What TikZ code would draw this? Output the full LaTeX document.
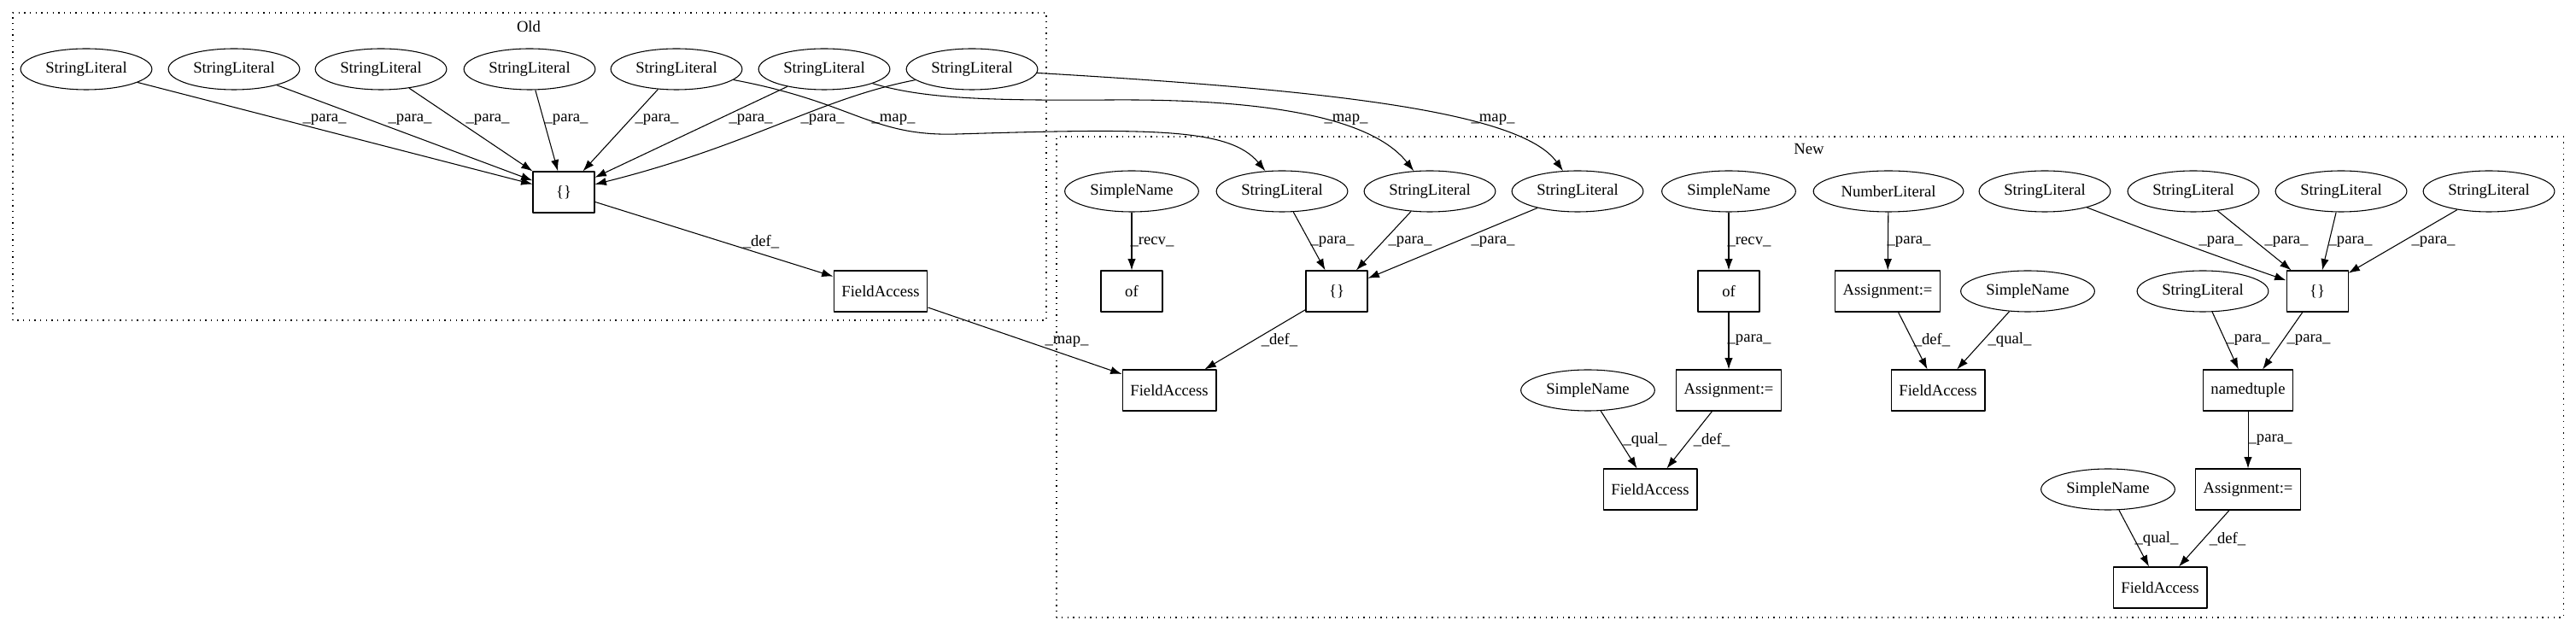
\documentclass[tikz,border=0pt]{standalone}
\usepackage{fontspec}
\setmainfont{Liberation Serif}
\usetikzlibrary{shapes.geometric,arrows.meta}

\begin{document}
\begin{tikzpicture}[>={Latex[length=10bp,width=7bp]},line join=bevel,line width=0.8bp,
  font=\fontsize{14bp}{16bp}\selectfont,
  litnode/.style={draw,ellipse,inner xsep=5bp,minimum height=36bp},
  astnode/.style={draw,rectangle,inner xsep=7bp,minimum width=54bp,minimum height=36bp},
  cluster/.style={draw,dash pattern=on 1bp off 4bp}]
\useasboundingbox (0bp,0bp) rectangle (2262bp,555bp);
%%
\draw [cluster] (11.25bp,273.75bp) rectangle (918.75bp,543.75bp);
\draw [cluster] (927.75bp,12.75bp) rectangle (2250.75bp,435bp);
\node (lbl_old) at (464.25bp,531.75bp) {Old};
\node (lbl_new) at (1588.5bp,424.5bp) {New};
%%
\node (node_0) at (75.75bp,494.25bp) [litnode] {StringLiteral};
  \node (node_1) at (205.5bp,494.25bp) [litnode] {StringLiteral};
  \node (node_2) at (334.5bp,494.25bp) [litnode] {StringLiteral};
  \node (node_3) at (465bp,494.25bp) [litnode] {StringLiteral};
  \node (node_4) at (594bp,494.25bp) [litnode] {StringLiteral};
  \node (node_5) at (723.75bp,494.25bp) [litnode] {StringLiteral};
  \node (node_6) at (853.5bp,494.25bp) [litnode] {StringLiteral};
  \node (node_7) at (495bp,386.25bp) [astnode] {\{\}};
  \node (node_8) at (773.25bp,299.25bp) [astnode] {FieldAccess};
  \node (node_9) at (993.75bp,387bp) [litnode] {SimpleName};
  \node (node_10) at (1125.75bp,387bp) [litnode] {StringLiteral};
  \node (node_11) at (1255.5bp,387bp) [litnode] {StringLiteral};
  \node (node_12) at (1385.25bp,387bp) [litnode] {StringLiteral};
  \node (node_13) at (1518bp,387bp) [litnode] {SimpleName};
  \node (node_14) at (1658.25bp,387bp) [litnode] {NumberLiteral};
  \node (node_15) at (1795.5bp,387bp) [litnode] {StringLiteral};
  \node (node_16) at (1926bp,387bp) [litnode] {StringLiteral};
  \node (node_17) at (2055.75bp,387bp) [litnode] {StringLiteral};
  \node (node_18) at (2185.5bp,387bp) [litnode] {StringLiteral};
  \node (node_19) at (993.75bp,299.25bp) [astnode] {of};
  \node (node_20) at (1173.75bp,299.25bp) [astnode] {\{\}};
  \node (node_21) at (1518bp,299.25bp) [astnode] {of};
  \node (node_22) at (1657.5bp,299.25bp) [astnode] {Assignment:=};
  \node (node_23) at (1780.5bp,299.25bp) [litnode] {SimpleName};
  \node (node_24) at (1934.25bp,299.25bp) [litnode] {StringLiteral};
  \node (node_25) at (2034.75bp,299.25bp) [astnode] {\{\}};
  \node (node_26) at (1026.75bp,212.25bp) [astnode] {FieldAccess};
  \node (node_27) at (1394.25bp,212.25bp) [litnode] {SimpleName};
  \node (node_28) at (1518bp,212.25bp) [astnode] {Assignment:=};
  \node (node_29) at (1701.75bp,212.25bp) [astnode] {FieldAccess};
  \node (node_30) at (1974bp,212.25bp) [astnode] {namedtuple};
  \node (node_31) at (1449bp,125.25bp) [astnode] {FieldAccess};
  \node (node_32) at (1851bp,125.25bp) [litnode] {SimpleName};
  \node (node_33) at (1974bp,125.25bp) [astnode] {Assignment:=};
  \node (node_34) at (1896.75bp,39bp) [astnode] {FieldAccess};
%%
  \draw [->] (node_0) -- (node_7);
  \draw [->] (node_1) -- (node_7);
  \draw [->] (node_2) -- (node_7);
  \draw [->] (node_3) -- (node_7);
  \draw [->] (node_4) -- (node_7);
  \draw [->] (node_5) -- (node_7);
  \draw [->] (node_6) .. controls (720bp,468.75bp) and (660bp,427.5bp) .. (node_7);
  \draw [->] (node_4) .. controls (750bp,465bp) and (765bp,435bp) .. (840bp,437.25bp) .. controls (1012.5bp,442.5bp) and (1080bp,442.5bp) .. (node_10);
  \draw [->] (node_5) .. controls (810bp,468.75bp) and (862.5bp,466.5bp) .. (975bp,467.25bp) .. controls (1087.5bp,468bp) and (1200bp,457.5bp) .. (node_11);
  \draw [->] (node_6) .. controls (1162.5bp,476.25bp) and (1335bp,457.5bp) .. (node_12);
  \draw [->] (node_7) -- (node_8);
  \draw [->] (node_8) -- (node_26);
  \draw [->] (node_9) -- (node_19);
  \draw [->] (node_10) -- (node_20);
  \draw [->] (node_11) -- (node_20);
  \draw [->] (node_12) -- (node_20);
  \draw [->] (node_13) -- (node_21);
  \draw [->] (node_14) -- (node_22);
  \draw [->] (node_15) .. controls (1905bp,345bp) and (1957.5bp,326.25bp) .. (node_25);
  \draw [->] (node_16) -- (node_25);
  \draw [->] (node_17) -- (node_25);
  \draw [->] (node_18) -- (node_25);
  \draw [->] (node_20) -- (node_26);
  \draw [->] (node_21) -- (node_28);
  \draw [->] (node_22) -- (node_29);
  \draw [->] (node_23) -- (node_29);
  \draw [->] (node_24) -- (node_30);
  \draw [->] (node_25) -- (node_30);
  \draw [->] (node_30) -- (node_33);
  \draw [->] (node_27) -- (node_31);
  \draw [->] (node_28) -- (node_31);
  \draw [->] (node_32) -- (node_34);
  \draw [->] (node_33) -- (node_34);
%%
  \node (lbl_0) at (285bp,450bp) {\_para\_};
  \node (lbl_1) at (360bp,450bp) {\_para\_};
  \node (lbl_2) at (428.25bp,450bp) {\_para\_};
  \node (lbl_3) at (497.25bp,450bp) {\_para\_};
  \node (lbl_4) at (576.75bp,450bp) {\_para\_};
  \node (lbl_5) at (659.25bp,450bp) {\_para\_};
  \node (lbl_6) at (722.25bp,450bp) {\_para\_};
  \node (lbl_7) at (784.5bp,450bp) {\_map\_};
  \node (lbl_8) at (1182bp,450bp) {\_map\_};
  \node (lbl_9) at (1311bp,450bp) {\_map\_};
  \node (lbl_10) at (668.25bp,342.75bp) {\_def\_};
  \node (lbl_11) at (936.75bp,255bp) {\_map\_};
  \node (lbl_12) at (1011.75bp,342.75bp) {\_recv\_};
  \node (lbl_13) at (1170bp,342.75bp) {\_para\_};
  \node (lbl_14) at (1238.25bp,342.75bp) {\_para\_};
  \node (lbl_15) at (1311bp,342.75bp) {\_para\_};
  \node (lbl_16) at (1536bp,342.75bp) {\_recv\_};
  \node (lbl_17) at (1676.25bp,342.75bp) {\_para\_};
  \node (lbl_18) at (1950bp,342.75bp) {\_para\_};
  \node (lbl_19) at (2007.75bp,342.75bp) {\_para\_};
  \node (lbl_20) at (2064bp,342.75bp) {\_para\_};
  \node (lbl_21) at (2136.75bp,342.75bp) {\_para\_};
  \node (lbl_22) at (1123.5bp,256.5bp) {\_def\_};
  \node (lbl_23) at (1536bp,256.5bp) {\_para\_};
  \node (lbl_24) at (1696.5bp,256.5bp) {\_def\_};
  \node (lbl_25) at (1764.75bp,256.5bp) {\_qual\_};
  \node (lbl_26) at (1974bp,256.5bp) {\_para\_};
  \node (lbl_27) at (2027.25bp,256.5bp) {\_para\_};
  \node (lbl_28) at (1444.5bp,168.75bp) {\_qual\_};
  \node (lbl_29) at (1503bp,168.75bp) {\_def\_};
  \node (lbl_30) at (1993.5bp,168.75bp) {\_para\_};
  \node (lbl_31) at (1893.75bp,81.75bp) {\_qual\_};
  \node (lbl_32) at (1956bp,81.75bp) {\_def\_};
%
\end{tikzpicture}
\end{document}
